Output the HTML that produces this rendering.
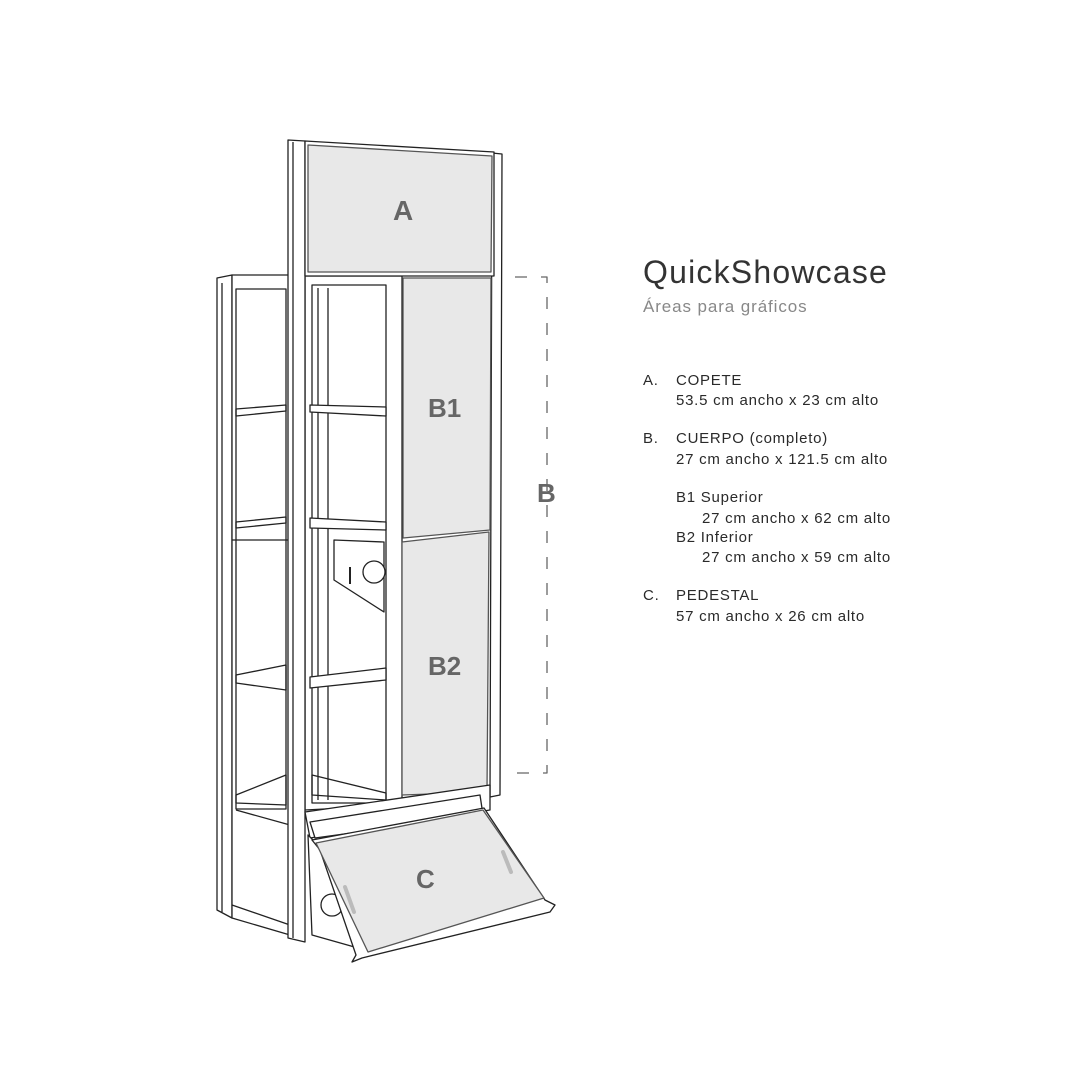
<!DOCTYPE html>
<html><head><meta charset="utf-8"><style>
body{margin:0;background:#fff;width:1080px;height:1080px;overflow:hidden;position:relative;font-family:"Liberation Sans",sans-serif}
.t{position:absolute;white-space:nowrap;color:#2a2a2a;font-size:15px;letter-spacing:0.75px}
</style></head><body>
<svg width="1080" height="1080" style="position:absolute;left:0;top:0" fill="none" stroke="#222" stroke-width="1.3" stroke-linejoin="round">
<!-- left door -->
<polygon points="217,278 232,275 232,918 217,910" fill="#fff"/>
<polygon points="232,275 290,275 290,935 232,918" fill="#fff"/>
<line x1="222" y1="283" x2="222" y2="912"/>
<rect x="236" y="289" width="50" height="520"/>
<line x1="232" y1="540" x2="290" y2="540"/>
<polygon points="236,409 286,405 286,411 236,416"/>
<polygon points="236,522 286,517 286,523 236,528"/>
<polygon points="236,675 286,665 286,690 236,683"/>
<polygon points="236,795 286,775 286,805 236,803"/>
<line x1="236" y1="810" x2="290" y2="825"/>
<line x1="232" y1="905" x2="290" y2="925"/>
<!-- central column -->
<polygon points="305,276 402,276 402,805 305,810" fill="#fff"/>
<rect x="312" y="285" width="74" height="518"/>
<line x1="318" y1="288" x2="318" y2="800"/>
<line x1="328" y1="288" x2="328" y2="800"/>
<polygon points="310,405 386,407 386,416 310,412" fill="#fff"/>
<polygon points="310,518 386,522 386,530 310,528" fill="#fff"/>
<polygon points="310,677 386,668 386,680 310,688" fill="#fff"/>
<polygon points="312,775 386,793 386,800 312,795"/>
<polygon points="334,540 384,542 384,612 334,580 " fill="#fff"/>
<circle cx="374" cy="572" r="11" fill="#fff"/>
<line x1="350" y1="567" x2="350" y2="584" stroke-width="2"/>
<!-- left post -->
<polygon points="288,140 305,141 305,942 288,938" fill="#fff"/>
<line x1="293" y1="142" x2="293" y2="938"/>
<!-- right post -->
<polygon points="492,153 502,154 500,795 490,797" fill="#fff"/>
<!-- A -->
<polygon points="305,141 494,152 494,276 305,276" fill="#fff"/>
<polygon points="308,145 492,156 491,272 308,272" fill="#e8e8e8" stroke="#555"/>
<!-- B1 / B2 -->
<polygon points="403,278 491,278 490,530 403,538" fill="#e8e8e8" stroke="#555"/>
<polygon points="402,542 489,532 487,792 402,795" fill="#e8e8e8" stroke="#555"/>
<!-- pedestal -->
<polygon points="305,812 490,785 490,810 310,838" fill="#fff"/>
<polygon points="310,822 480,795 483,815 315,838" fill="#fff"/>
<polygon points="308,835 312,935 358,948 318,845" fill="#fff"/>
<circle cx="332" cy="905" r="11" fill="#fff"/>
<polygon points="312,840 484,808 545,900 555,905 550,912 362,958 352,962 356,955 320,850" fill="#fff"/>
<polygon points="316,843 483,810 544,898 368,952" fill="#e8e8e8" stroke="#555"/>
<line x1="345" y1="887" x2="354" y2="912" stroke="#bbb" stroke-width="4" stroke-linecap="round"/>
<line x1="503" y1="852" x2="511" y2="872" stroke="#bbb" stroke-width="4" stroke-linecap="round"/>
<!-- dashed bracket -->
<path d="M515,277 H547 V773 H515" stroke="#666" stroke-width="1.3" stroke-dasharray="12,14"/>
</svg>
<div class="t" style="left:393px;top:195px;font-size:28px;font-weight:bold;color:#666;letter-spacing:0">A</div>
<div class="t" style="left:428px;top:393px;font-size:26px;font-weight:bold;color:#666;letter-spacing:0">B1</div>
<div class="t" style="left:428px;top:651px;font-size:26px;font-weight:bold;color:#666;letter-spacing:0">B2</div>
<div class="t" style="left:416px;top:864px;font-size:26px;font-weight:bold;color:#666;letter-spacing:0">C</div>
<div class="t" style="left:537px;top:478px;font-size:26px;font-weight:bold;color:#666;letter-spacing:0">B</div>
<div class="t" style="left:643px;top:254px;font-size:32px;color:#333;letter-spacing:1.2px">QuickShowcase</div>
<div class="t" style="left:643px;top:297px;font-size:17px;color:#888;letter-spacing:0.9px">Áreas para gráficos</div>
<div class="t" style="left:643px;top:372px">A.</div><div class="t" style="left:676px;top:372px">COPETE</div>
<div class="t" style="left:676px;top:392px">53.5 cm ancho x 23 cm alto</div>
<div class="t" style="left:643px;top:430px">B.</div><div class="t" style="left:676px;top:430px">CUERPO (completo)</div>
<div class="t" style="left:676px;top:451px">27 cm ancho x 121.5 cm alto</div>
<div class="t" style="left:676px;top:489px">B1 Superior</div>
<div class="t" style="left:702px;top:510px">27 cm ancho x 62 cm alto</div>
<div class="t" style="left:676px;top:529px">B2 Inferior</div>
<div class="t" style="left:702px;top:549px">27 cm ancho x 59 cm alto</div>
<div class="t" style="left:643px;top:587px">C.</div><div class="t" style="left:676px;top:587px">PEDESTAL</div>
<div class="t" style="left:676px;top:608px">57 cm ancho x 26 cm alto</div>
</body></html>
